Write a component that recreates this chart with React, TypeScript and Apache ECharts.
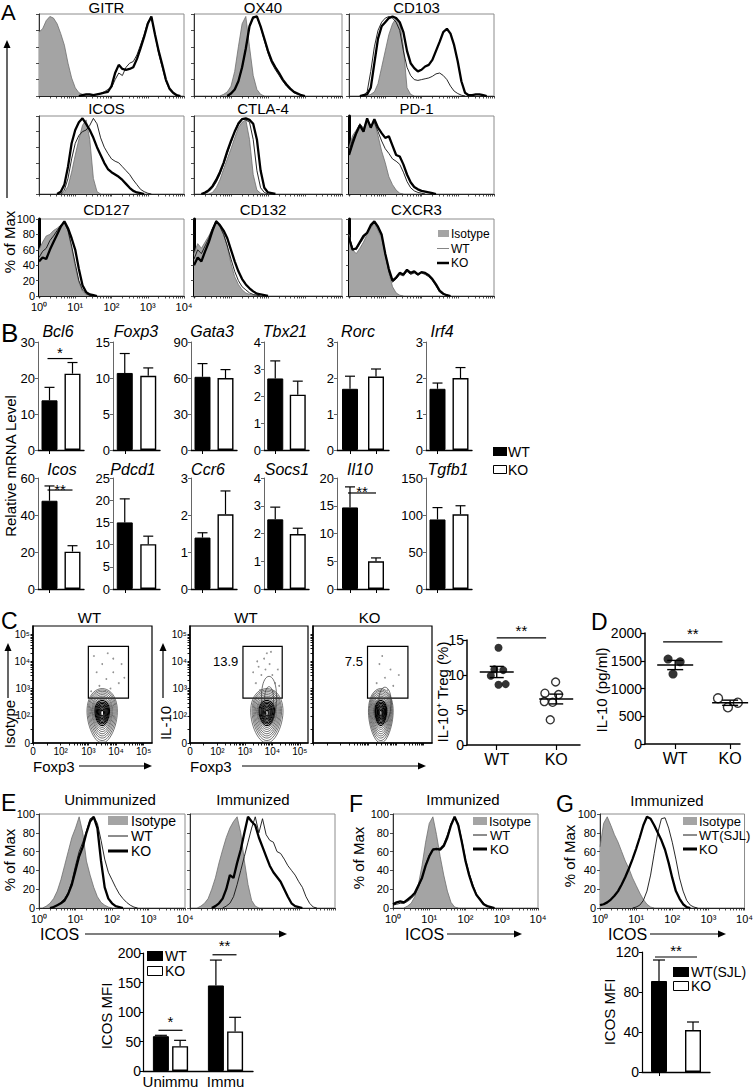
import React, { useEffect, useRef } from 'react';
import * as echarts from 'echarts';

const FONT = '"Liberation Sans", Arial, Helvetica, sans-serif';
const SUP = ['\u2070', '\u00b9', '\u00b2', '\u00b3', '\u2074', '\u2075'];

type Curve = { from: number; v: number[] };

// ---------------- Panel A histograms (x: log10 intensity from `from`, step 0.1; y: % of max)
const GITR_ISO: Curve = { from: 0, v: [78, 82, 92, 97, 95, 88, 76, 62, 40, 22, 10, 4, 2, 1, 1] };
const GITR_WT: Curve = { from: 1.2, v: [1, 2, 2, 1, 2, 3, 5, 8, 10, 20, 28, 25, 35, 40, 42, 50, 62, 75, 90, 96, 75, 52, 35, 18, 8, 3, 1] };
const GITR_KO: Curve = { from: 1.2, v: [1, 2, 2, 1, 2, 3, 4, 5, 12, 28, 38, 33, 32, 33, 35, 45, 58, 72, 88, 97, 75, 55, 38, 20, 9, 4, 1] };
const OX40_ISO: Curve = { from: 0.8, v: [2, 5, 12, 30, 60, 88, 97, 60, 25, 8, 2] };
const OX40_WT: Curve = { from: 1.0, v: [3, 8, 18, 35, 58, 85, 95, 96, 84, 68, 52, 40, 32, 25, 18, 12, 8, 4, 2, 1] };
const OX40_KO: Curve = { from: 1.0, v: [3, 8, 18, 35, 58, 85, 96, 97, 85, 70, 55, 43, 35, 28, 20, 14, 9, 5, 3, 1] };
const CD103_ISO: Curve = { from: 0.6, v: [2, 5, 15, 35, 55, 75, 88, 95, 90, 60, 10, 2] };
const CD103_WT: Curve = { from: 0.4, v: [1, 5, 30, 60, 80, 90, 95, 97, 95, 90, 80, 55, 35, 25, 20, 19, 20, 21, 22, 24, 27, 28, 25, 20, 12, 6, 3, 1] };
const CD103_KO: Curve = { from: 0.4, v: [1, 2, 10, 40, 70, 85, 90, 95, 97, 95, 90, 78, 55, 40, 34, 30, 32, 36, 38, 44, 55, 66, 78, 82, 76, 62, 42, 18, 4, 1, 1, 2, 2, 1] };
const ICOS_ISO: Curve = { from: 0.7, v: [2, 10, 28, 50, 70, 88, 95, 70, 20, 3] };
const ICOS_WT: Curve = { from: 0.7, v: [5, 20, 45, 65, 75, 80, 82, 88, 97, 90, 72, 60, 52, 45, 42, 40, 35, 30, 25, 18, 12, 6, 3, 1] };
const ICOS_KO: Curve = { from: 0.6, v: [3, 12, 35, 65, 82, 92, 97, 90, 82, 72, 60, 50, 40, 32, 28, 25, 22, 18, 13, 8, 4, 2, 1] };
const CTLA4_ISO: Curve = { from: 0.5, v: [2, 8, 18, 32, 45, 58, 72, 85, 92, 95, 70, 25, 5, 1] };
const CTLA4_WT: Curve = { from: 0.3, v: [1, 3, 8, 15, 25, 38, 52, 66, 80, 92, 97, 95, 92, 70, 30, 8, 2] };
const CTLA4_KO: Curve = { from: 0.3, v: [2, 5, 10, 18, 28, 40, 55, 68, 80, 90, 96, 97, 95, 90, 70, 30, 8, 2, 1] };
const PD1_ISO: Curve = { from: 0, v: [60, 75, 82, 90, 85, 95, 88, 92, 75, 55, 40, 22, 12, 5, 1] };
const PD1_WT: Curve = { from: 0, v: [55, 70, 80, 90, 82, 95, 88, 92, 80, 68, 58, 52, 45, 42, 38, 28, 16, 8, 4, 2, 1] };
const PD1_KO: Curve = { from: 0, v: [50, 65, 78, 88, 80, 97, 85, 96, 85, 78, 72, 74, 62, 50, 48, 38, 25, 15, 9, 6, 4, 3, 2, 1] };
const CD127_ISO: Curve = { from: 0, v: [60, 70, 78, 80, 85, 88, 92, 96, 85, 62, 38, 18, 6, 2, 1] };
const CD127_WT: Curve = { from: 0, v: [50, 58, 62, 72, 78, 85, 92, 95, 85, 65, 42, 20, 8, 3, 1] };
const CD127_KO: Curve = { from: 0, v: [45, 50, 48, 60, 70, 80, 90, 97, 88, 75, 60, 35, 14, 5, 2, 1] };
const CD132_ISO: Curve = { from: 0, v: [55, 68, 62, 70, 78, 88, 97, 92, 80, 65, 42, 25, 15, 8, 4, 2, 1] };
const CD132_WT: Curve = { from: 0, v: [48, 60, 55, 65, 75, 88, 98, 90, 80, 65, 48, 32, 20, 12, 8, 4, 2, 1] };
const CD132_KO: Curve = { from: 0, v: [40, 50, 45, 58, 70, 85, 97, 92, 85, 75, 60, 45, 32, 22, 15, 10, 6, 3, 2, 1] };
const CXCR3_ISO: Curve = { from: 0, v: [80, 60, 55, 62, 70, 80, 88, 95, 85, 75, 55, 30, 12, 4, 1] };
const CXCR3_WT: Curve = { from: 0, v: [78, 62, 60, 68, 75, 82, 90, 96, 88, 78, 55, 32, 18, 22, 28, 26, 32, 28, 30, 27, 30, 28, 25, 20, 13, 5, 2, 1] };
const CXCR3_KO: Curve = { from: 0, v: [75, 60, 62, 70, 78, 82, 92, 97, 90, 80, 55, 35, 20, 24, 30, 28, 34, 30, 32, 28, 31, 30, 27, 22, 15, 7, 3, 1] };

// ---------------- Panels E, F, G histograms (ICOS)
const EU_ISO: Curve = { from: 0.2, v: [2, 5, 10, 18, 30, 45, 60, 75, 85, 97, 80, 50, 35, 22, 12, 6, 3, 1] };
const EU_WT: Curve = { from: 0.4, v: [1, 3, 6, 10, 16, 28, 45, 60, 70, 82, 95, 97, 90, 72, 52, 38, 30, 22, 15, 10, 6, 3, 1] };
const EU_KO: Curve = { from: 0.4, v: [1, 3, 5, 8, 15, 25, 40, 55, 65, 80, 92, 97, 85, 50, 22, 10, 5, 2, 1] };
const EI_ISO: Curve = { from: 0.3, v: [2, 5, 10, 20, 32, 48, 62, 75, 85, 92, 97, 80, 50, 25, 8, 2] };
const EI_WT: Curve = { from: 1.0, v: [2, 5, 12, 25, 40, 55, 70, 85, 97, 80, 95, 78, 72, 70, 60, 58, 52, 45, 40, 35, 28, 22, 12, 5, 1] };
const EI_KO: Curve = { from: 0.7, v: [2, 5, 10, 20, 35, 32, 48, 62, 80, 97, 92, 88, 75, 65, 55, 45, 38, 33, 28, 20, 12, 5, 2, 1] };
const F_ISO: Curve = { from: 0.4, v: [2, 5, 12, 25, 45, 70, 90, 97, 78, 55, 35, 18, 6, 1] };
const F_WT: Curve = { from: 0, v: [3, 4, 5, 5, 7, 10, 14, 22, 32, 46, 56, 63, 62, 64, 68, 78, 90, 96, 90, 72, 52, 37, 25, 15, 10, 5, 2, 1] };
const F_KO: Curve = { from: 0, v: [4, 6, 7, 6, 9, 12, 16, 24, 32, 45, 55, 62, 63, 62, 66, 75, 88, 97, 88, 70, 50, 35, 23, 14, 9, 4, 2, 1] };
const G_ISO: Curve = { from: 0, v: [65, 90, 97, 88, 78, 70, 60, 50, 42, 32, 24, 16, 9, 4, 1] };
const G_WT: Curve = { from: 1.0, v: [1, 3, 8, 18, 35, 58, 80, 95, 96, 85, 70, 52, 32, 18, 8, 3, 1] };
const G_KO: Curve = { from: 0, v: [3, 4, 6, 9, 13, 18, 25, 33, 42, 52, 63, 75, 88, 97, 95, 88, 80, 72, 62, 48, 32, 18, 10, 4, 1] };

// ---------------- Panel B: relative mRNA level
const B_GROUPS = ['WT', 'KO'];
const B_GENES = ['Bcl6', 'Foxp3', 'Gata3', 'Tbx21', 'Rorc', 'Irf4', 'Icos', 'Pdcd1', 'Ccr6', 'Socs1', 'Il10', 'Tgfb1'];
const B_WT = [13.8, 10.7, 61, 2.65, 1.7, 1.7, 47.7, 15, 1.39, 2.51, 14.7, 94];
const B_WT_HI = [17.4, 13.4, 72, 3.3, 2.05, 1.86, 55.7, 20.3, 1.52, 2.95, 18.4, 110];
const B_KO = [21.2, 10.3, 60, 2.05, 2.04, 2.0, 20.2, 10.1, 2.02, 1.98, 5.0, 101];
const B_KO_HI = [24.3, 11.4, 67, 2.55, 2.25, 2.29, 23.4, 11.9, 2.65, 2.19, 5.6, 112.5];
const B_MAX = [30, 15, 90, 4, 3, 3, 60, 25, 3, 4, 20, 150];
const B_STEP = [10, 5, 30, 1, 1, 1, 20, 5, 1, 1, 5, 50];
const B_SIG = ['*', '', '', '', '', '', '**', '', '', '', '**', ''];
const B_SIG_Y = [25.4, 0, 0, 0, 0, 0, 53.5, 0, 0, 0, 17.3, 0];

// ---------------- Panel C: flow plots (axis units: 0, 10^2 .. 10^5 at 0..4)
const C_AXIS_LABELS = ['0', '10' + SUP[2], '10' + SUP[3], '10' + SUP[4], '10' + SUP[5]];
const C_TITLES = ['WT', 'WT', 'KO'];
const C_GATE_PCT = ['', '13.9', '7.5'];
const C_GATES = [[[2.0, 1.65], [3.45, 3.55]], [[1.93, 1.65], [3.36, 3.55]], [[1.97, 1.65], [3.43, 3.55]]];
// contour levels: [cx, cy, rx, ry]
const C1_CONTOURS = [[2.5, 1.0, 0.54, 1.0], [2.5, 1.02, 0.5, 0.93], [2.5, 1.04, 0.46, 0.86], [2.5, 1.05, 0.42, 0.79], [2.5, 1.06, 0.38, 0.72], [2.5, 1.07, 0.35, 0.65], [2.5, 1.08, 0.32, 0.58], [2.5, 1.09, 0.29, 0.52], [2.5, 1.1, 0.26, 0.46], [2.5, 1.1, 0.23, 0.4], [2.5, 1.1, 0.2, 0.35], [2.5, 1.1, 0.17, 0.3], [2.5, 1.1, 0.14, 0.25], [2.5, 1.1, 0.11, 0.2], [2.5, 1.1, 0.08, 0.15], [2.5, 1.1, 0.05, 0.1]];
const C2_CONTOURS = [[2.8, 1.0, 0.58, 1.0], [2.8, 1.02, 0.53, 0.93], [2.8, 1.04, 0.49, 0.86], [2.8, 1.05, 0.45, 0.79], [2.8, 1.06, 0.41, 0.72], [2.8, 1.07, 0.37, 0.65], [2.8, 1.08, 0.34, 0.58], [2.8, 1.09, 0.31, 0.52], [2.8, 1.1, 0.28, 0.46], [2.8, 1.1, 0.25, 0.4], [2.8, 1.1, 0.21, 0.35], [2.8, 1.1, 0.18, 0.3], [2.8, 1.1, 0.15, 0.25], [2.8, 1.1, 0.12, 0.2], [2.8, 1.1, 0.08, 0.15], [2.8, 1.1, 0.05, 0.1], [2.88, 1.55, 0.27, 0.9], [2.88, 1.5, 0.16, 0.57]];
const C3_CONTOURS = [[2.45, 1.0, 0.44, 1.0], [2.45, 1.02, 0.41, 0.93], [2.45, 1.04, 0.38, 0.86], [2.45, 1.05, 0.35, 0.79], [2.45, 1.06, 0.32, 0.72], [2.45, 1.07, 0.29, 0.65], [2.45, 1.08, 0.26, 0.58], [2.45, 1.09, 0.24, 0.52], [2.45, 1.1, 0.21, 0.46], [2.45, 1.1, 0.19, 0.4], [2.45, 1.1, 0.17, 0.35], [2.45, 1.1, 0.14, 0.3], [2.45, 1.1, 0.12, 0.25], [2.45, 1.1, 0.09, 0.2], [2.45, 1.1, 0.07, 0.15], [2.45, 1.1, 0.04, 0.1], [2.6, 1.4, 0.22, 0.65]];
const C1_DOTS = [[2.2, 3.2], [2.5, 2.9], [2.7, 3.3], [2.9, 2.6], [3.1, 2.2], [2.4, 2.1], [2.6, 1.9], [2.8, 2.0], [3.2, 2.9], [2.3, 2.6], [2.9, 3.1], [2.1, 1.9], [3.3, 2.4], [2.65, 2.35]];
const C2_DOTS = [[2.5, 2.8], [2.7, 3.1], [2.9, 2.9], [3.0, 2.5], [2.6, 2.5], [2.4, 2.2], [3.1, 2.2], [2.8, 3.3], [3.2, 2.7], [2.3, 2.6], [2.55, 1.95], [3.05, 1.9], [2.75, 2.7], [2.95, 3.35], [2.45, 3.0], [3.25, 2.1]];
const C3_DOTS = [[2.4, 2.9], [2.6, 2.4], [2.8, 2.7], [2.3, 2.2], [2.9, 2.1], [2.5, 3.2], [3.1, 2.5], [2.7, 1.95]];

// IL-10+ Treg (%) dot plot: [x jitter around group, value]
const CS_WT = [[0.03, 13.9], [-0.04, 10.8], [0.11, 10.7], [-0.1, 9.9], [0.03, 8.6], [0.15, 8.7]];
const CS_KO = [[-0.01, 9.0], [-0.19, 7.4], [0.04, 7.2], [-0.2, 6.2], [-0.06, 6.1], [-0.1, 3.6]];
const CS_MEAN_SEM = [[0, 10.43, 0.8], [1, 6.57, 0.7]];

// ---------------- Panel D: IL-10 (pg/ml)
const D_WT = [[-0.13, 1530], [0.09, 1480], [-0.04, 1260]];
const D_KO = [[-0.22, 823], [-0.04, 661], [0.14, 744]];
const D_MEAN_SEM = [[0, 1423, 83], [1, 743, 47]];

// ---------------- Panel E bar: ICOS MFI
const E_GROUPS = ['Unimmu', 'Immu'];
const E_WT = [59, 145];
const E_WT_HI = [60.5, 188];
const E_KO = [42, 67];
const E_KO_HI = [52, 91];

// ---------------- Panel G bar: ICOS MFI
const G_GROUPS = ['WT(SJL)', 'KO'];
const G_VAL = [91, 42];
const G_HI = [112, 50];

// ---------------- layout
const A_COL_LEFT = [39, 194, 349];
const A_COL_W = [145, 148, 145];
const A_ROW_TOP = [14, 116, 219];
const A_ROW_H = [82, 78, 77];
const A_TITLE_Y = [7, 108, 209];
const B_LEFT = [38, 113, 191, 264, 337, 426];
const B_W = [46, 47, 46, 45, 52, 46];
const B_ROW_TOP = [342, 478];
const B_ROW_H = [108, 111];
const B_TITLE_Y = [331, 469];
const B_TITLE_X = [[58, 136, 212, 285, 358, 442], [62, 133, 208, 287, 360, 448]];

function toPts(c: Curve): number[][] {
  const out: number[][] = [];
  if (c.from > 0.01) out.push([+(c.from - 0.1).toFixed(2), 0]);
  c.v.forEach((y, i) => out.push([+(c.from + i * 0.1).toFixed(2), y]));
  const last = c.from + (c.v.length - 1) * 0.1;
  if (last < 3.95) out.push([+(last + 0.1).toFixed(2), 0]);
  return out;
}

const HIST_TICKS: number[] = [];
for (let d = 0; d < 4; d++) for (let k = 1; k <= 9; k++) HIST_TICKS.push(+(d + Math.log10(k)).toFixed(4));
HIST_TICKS.push(4);
const C_TICKS: number[] = [0, 0.5, 1];
for (let d = 1; d < 4; d++) for (let k = 2; k <= 10; k++) C_TICKS.push(+(d + Math.log10(k)).toFixed(4));

function txt(x: number, y: number, text: string, size: number, o: any = {}) {
  const align = o.align || 'center';
  const va = o.va || 'middle';
  return {
    type: 'text', x, y, rotation: o.rot || 0, silent: true, z: 100,
    style: {
      text, fill: o.color || '#000',
      font: `${o.italic ? 'italic ' : ''}${size}px ${FONT}`,
      textAlign: align, align, textVerticalAlign: va, verticalAlign: va,
    },
  };
}

function arrow(x1: number, y1: number, x2: number, y2: number, w = 1.2) {
  const ang = Math.atan2(y2 - y1, x2 - x1);
  const L = 8, H = 3.5;
  const bx = x2 - L * Math.cos(ang), by = y2 - L * Math.sin(ang);
  const px = -Math.sin(ang) * H, py = Math.cos(ang) * H;
  return [
    { type: 'line', silent: true, z: 100, shape: { x1, y1, x2: bx, y2: by }, style: { stroke: '#000', lineWidth: w } },
    { type: 'polygon', silent: true, z: 100, shape: { points: [[x2, y2], [bx + px, by + py], [bx - px, by - py]] }, style: { fill: '#000' } },
  ];
}

function hline(x1: number, x2: number, y: number, w: number, color = '#000') {
  return { type: 'line', silent: true, z: 100, shape: { x1, y1: y, x2, y2: y }, style: { stroke: color, lineWidth: w } };
}
function box(x: number, y: number, w: number, h: number, fill: string, stroke?: string) {
  return { type: 'rect', silent: true, z: 100, shape: { x, y, width: w, height: h }, style: { fill, stroke: stroke || null, lineWidth: stroke ? 1 : 0 } };
}

function buildOption(): any {
  const grid: any[] = [], xAxis: any[] = [], yAxis: any[] = [], series: any[] = [], graphic: any[] = [];
  const lab = { fontFamily: FONT, color: '#000' };

  function hist(b: number[], iso: Curve, wt: Curve, ko: Curve, o: any) {
    const i = grid.length;
    grid.push({ left: b[0], top: b[1], width: b[2], height: b[3], show: true, borderColor: '#8c8c8c', borderWidth: 1, backgroundColor: '#fff' });
    xAxis.push({
      type: 'value', gridIndex: i, min: 0, max: 4,
      axisLine: { show: true, onZero: false, lineStyle: { color: '#222', width: 1 } },
      axisTick: { show: true, customValues: HIST_TICKS, length: 2.5, lineStyle: { color: '#222', width: 0.8 } },
      axisLabel: { show: !!o.xl, customValues: [0, 1, 2, 3, 4], formatter: (v: number) => '10' + SUP[Math.round(v)], fontSize: 11, margin: 5, ...lab },
      splitLine: { show: false },
    });
    yAxis.push({
      type: 'value', gridIndex: i, min: 0, max: 100, interval: 20,
      axisLine: { show: true, onZero: false, lineStyle: { color: o.thick ? '#000' : '#333', width: o.thick ? 3 : 1 } },
      axisTick: { show: true, length: 3, lineStyle: { color: '#222', width: 0.8 } },
      axisLabel: { show: !!o.yl, fontSize: 11, margin: 4, ...lab },
      splitLine: { show: false },
    });
    series.push({ type: 'line', xAxisIndex: i, yAxisIndex: i, data: toPts(iso), symbol: 'none', silent: true, z: 2, lineStyle: { color: '#6e6e6e', width: 0.8 }, areaStyle: { color: '#a4a4a4', opacity: 1 } });
    series.push({ type: 'line', xAxisIndex: i, yAxisIndex: i, data: toPts(wt), symbol: 'none', silent: true, z: 3, lineStyle: { color: '#111', width: 0.9 } });
    series.push({ type: 'line', xAxisIndex: i, yAxisIndex: i, data: toPts(ko), symbol: 'none', silent: true, z: 4, lineStyle: { color: '#000', width: 2.3 } });
  }

  function errSeries(i: number, data: number[][], dx: number[], cap = 5) {
    return {
      type: 'custom', xAxisIndex: i, yAxisIndex: i, data, silent: true, z: 5,
      renderItem: (params: any, api: any) => {
        const off = dx[params.dataIndex] || 0;
        const a = api.coord([api.value(0), api.value(1)]);
        const b = api.coord([api.value(0), api.value(2)]);
        const x = a[0] + off;
        return {
          type: 'group', children: [
            { type: 'line', shape: { x1: x, y1: a[1], x2: x, y2: b[1] }, style: { stroke: '#000', lineWidth: 1.2 } },
            { type: 'line', shape: { x1: x - cap, y1: b[1], x2: x + cap, y2: b[1] }, style: { stroke: '#000', lineWidth: 1.2 } },
          ],
        };
      },
    };
  }

  function sigSeries(i: number, data: number[][], labels: string[], dx0: number[], dx1: number[], lift: number) {
    return {
      type: 'custom', xAxisIndex: i, yAxisIndex: i, data, silent: true, z: 6, clip: false,
      renderItem: (params: any, api: any) => {
        const k = params.dataIndex;
        const a = api.coord([api.value(0), api.value(2)]);
        const b = api.coord([api.value(1), api.value(2)]);
        const x0 = a[0] + (dx0[k] || 0), x1 = b[0] + (dx1[k] || 0);
        return {
          type: 'group', children: [
            { type: 'line', shape: { x1: x0, y1: a[1], x2: x1, y2: a[1] }, style: { stroke: '#000', lineWidth: 1.2 } },
            { type: 'text', x: (x0 + x1) / 2, y: a[1] - lift, style: { text: labels[k], fill: '#000', font: `15px ${FONT}`, textAlign: 'center', align: 'center', textVerticalAlign: 'middle', verticalAlign: 'middle' } },
          ],
        };
      },
    };
  }

  function meanSem(i: number, data: number[][], half: number, cap: number) {
    return {
      type: 'custom', xAxisIndex: i, yAxisIndex: i, data, silent: true, z: 6,
      renderItem: (params: any, api: any) => {
        const m = api.coord([api.value(0), api.value(1)]);
        const lo = api.coord([api.value(0), api.value(1) - api.value(2)]);
        const hi = api.coord([api.value(0), api.value(1) + api.value(2)]);
        const st = { stroke: '#000', lineWidth: 1.4 };
        return {
          type: 'group', children: [
            { type: 'line', shape: { x1: m[0] - half, y1: m[1], x2: m[0] + half, y2: m[1] }, style: st },
            { type: 'line', shape: { x1: m[0], y1: lo[1], x2: m[0], y2: hi[1] }, style: st },
            { type: 'line', shape: { x1: m[0] - cap, y1: lo[1], x2: m[0] + cap, y2: lo[1] }, style: st },
            { type: 'line', shape: { x1: m[0] - cap, y1: hi[1], x2: m[0] + cap, y2: hi[1] }, style: st },
          ],
        };
      },
    };
  }

  // ================= Panel A =================
  const A = [
    ['GITR', GITR_ISO, GITR_WT, GITR_KO], ['OX40', OX40_ISO, OX40_WT, OX40_KO], ['CD103', CD103_ISO, CD103_WT, CD103_KO],
    ['ICOS', ICOS_ISO, ICOS_WT, ICOS_KO], ['CTLA-4', CTLA4_ISO, CTLA4_WT, CTLA4_KO], ['PD-1', PD1_ISO, PD1_WT, PD1_KO],
    ['CD127', CD127_ISO, CD127_WT, CD127_KO], ['CD132', CD132_ISO, CD132_WT, CD132_KO], ['CXCR3', CXCR3_ISO, CXCR3_WT, CXCR3_KO],
  ] as any[];
  A.forEach((p, k) => {
    const r = Math.floor(k / 3), c = k % 3;
    const b = [A_COL_LEFT[c], A_ROW_TOP[r], A_COL_W[c], A_ROW_H[r]];
    const thick = p[0] === 'PD-1' || r === 2;
    hist(b, p[1], p[2], p[3], { xl: k === 6, yl: k === 6, thick });
    graphic.push(txt(b[0] + b[2] / 2 - 5, A_TITLE_Y[r], p[0], 15));
  });
  graphic.push(txt(1, 1, 'A', 22, { align: 'left', va: 'top' }));
  graphic.push(...arrow(7, 198, 7, 40));
  graphic.push(txt(9, 242, '% of Max', 15, { rot: Math.PI / 2 }));
  graphic.push(box(438, 230, 11, 7, '#a4a4a4'));
  graphic.push(txt(451, 233.5, 'Isotype', 12, { align: 'left' }));
  graphic.push(hline(437, 449, 248.5, 0.9, '#777'));
  graphic.push(txt(451, 248.5, 'WT', 12, { align: 'left' }));
  graphic.push(hline(437, 449, 263, 2.5));
  graphic.push(txt(451, 263, 'KO', 12, { align: 'left' }));

  // ================= Panel B =================
  B_GENES.forEach((g, k) => {
    const r = Math.floor(k / 6), c = k % 6;
    const i = grid.length;
    grid.push({ left: B_LEFT[c], top: B_ROW_TOP[r], width: B_W[c], height: B_ROW_H[r] });
    xAxis.push({
      type: 'category', gridIndex: i, data: B_GROUPS,
      axisLine: { show: true, lineStyle: { color: '#000', width: 1.4 } },
      axisTick: { show: true, alignWithLabel: true, length: 4, lineStyle: { color: '#000' } },
      axisLabel: { show: false }, splitLine: { show: false },
    });
    yAxis.push({
      type: 'value', gridIndex: i, min: 0, max: B_MAX[k], interval: B_STEP[k],
      axisLine: { show: true, lineStyle: { color: '#666', width: 1 } },
      axisTick: { show: true, length: 3, lineStyle: { color: '#666' } },
      axisLabel: { fontSize: 13, margin: 3, ...lab }, splitLine: { show: false },
    });
    series.push({
      type: 'bar', xAxisIndex: i, yAxisIndex: i, barWidth: 16, silent: true, z: 2,
      data: [
        { value: B_WT[k], itemStyle: { color: '#000', borderColor: '#000', borderWidth: 1 } },
        { value: B_KO[k], itemStyle: { color: '#fff', borderColor: '#000', borderWidth: 1.4 } },
      ],
    });
    series.push(errSeries(i, [[0, B_WT[k], B_WT_HI[k]], [1, B_KO[k], B_KO_HI[k]]], [0, 0], 5));
    if (B_SIG[k]) series.push(sigSeries(i, [[0, 1, B_SIG_Y[k]]], [B_SIG[k]], [-2], [0], k === 0 ? 6 : 1));
    graphic.push(txt(B_TITLE_X[r][c], B_TITLE_Y[r], g, 16, { italic: true }));
  });
  graphic.push(txt(1, 320, 'B', 26, { align: 'left', va: 'top' }));
  graphic.push(txt(10, 466, 'Relative mRNA Level', 15, { rot: Math.PI / 2 }));
  graphic.push(box(493, 447, 14, 9, '#000'));
  graphic.push(txt(508, 452, 'WT', 14, { align: 'left' }));
  graphic.push(box(493.5, 465.5, 13, 8, '#fff', '#000'));
  graphic.push(txt(508, 470, 'KO', 14, { align: 'left' }));

  // ================= Panel C flow plots =================
  const flowBoxes = [[33, 626, 119, 117], [190, 626, 118, 117], [313, 626, 119, 117]];
  const flowContours = [C1_CONTOURS, C2_CONTOURS, C3_CONTOURS];
  const flowDots = [C1_DOTS, C2_DOTS, C3_DOTS];
  flowBoxes.forEach((b, k) => {
    const i = grid.length;
    grid.push({ left: b[0], top: b[1], width: b[2], height: b[3], show: true, borderColor: '#000', borderWidth: 1.2, backgroundColor: '#fff' });
    const ax = (show: boolean) => ({
      type: 'value', gridIndex: i, min: 0, max: 4.3,
      axisLine: { show: true, onZero: false, lineStyle: { color: '#000', width: 1.5 } },
      axisTick: { show: true, customValues: C_TICKS, length: 2.5, lineStyle: { color: '#000', width: 0.9 } },
      axisLabel: { show, customValues: [0, 1, 2, 3, 4], formatter: (v: number) => C_AXIS_LABELS[Math.round(v)], fontSize: 10, margin: 3, ...lab },
      splitLine: { show: false },
    });
    xAxis.push(ax(k < 2));
    yAxis.push(ax(k < 2));
    series.push({
      type: 'custom', xAxisIndex: i, yAxisIndex: i, data: flowContours[k], silent: true, z: 3, clip: true,
      renderItem: (params: any, api: any) => {
        const cx = api.value(0), cy = api.value(1), rx = api.value(2), ry = api.value(3);
        const pts: number[][] = [];
        for (let s = 0; s < 48; s++) {
          const t = (s / 48) * Math.PI * 2;
          // slightly wider toward the top, narrower at the base (teardrop-like contour)
          const w = 1 + 0.18 * Math.sin(t);
          pts.push(api.coord([cx + rx * w * Math.cos(t), Math.max(0.03, cy + ry * Math.sin(t))]));
        }
        const inner = params.dataIndex >= 8 && params.dataIndex < 16;
        return { type: 'polygon', shape: { points: pts }, style: { fill: 'none', stroke: inner ? '#000' : '#333', lineWidth: inner ? 1.1 : 0.7 } };
      },
    });
    series.push({
      type: 'scatter', xAxisIndex: i, yAxisIndex: i, data: flowDots[k], symbolSize: 1.8, silent: true, z: 3,
      itemStyle: { color: '#777' },
      markArea: {
        silent: true,
        itemStyle: { color: 'rgba(0,0,0,0)', borderColor: '#000', borderWidth: 1.2 },
        label: { show: !!C_GATE_PCT[k], position: 'left', distance: 4, offset: [0, -11], formatter: C_GATE_PCT[k], fontSize: 13, ...lab },
        data: [[{ coord: C_GATES[k][0] }, { coord: C_GATES[k][1] }]],
      },
    });
    graphic.push(txt(b[0] + b[2] / 2 - 3, 617, C_TITLES[k], 15));
  });
  graphic.push(txt(1, 609, 'C', 23, { align: 'left', va: 'top' }));
  graphic.push(...arrow(8, 698, 8, 643));
  graphic.push(txt(9, 724, 'Isotype', 15, { rot: Math.PI / 2 }));
  graphic.push(...arrow(163, 698, 163, 643));
  graphic.push(txt(165, 723, 'IL-10', 15, { rot: Math.PI / 2 }));
  graphic.push(txt(33, 766, 'Foxp3', 15, { align: 'left' }));
  graphic.push(...arrow(79, 766, 152, 766));
  graphic.push(txt(190, 766, 'Foxp3', 15, { align: 'left' }));
  graphic.push(...arrow(242, 766, 426, 766));

  // dot plot helper
  function dotPlot(b: number[], xr: number[], yMax: number, yStep: number, groups: string[], wt: number[][], ko: number[][], ms: number[][], sym: number, half: number, cap: number) {
    const i = grid.length;
    grid.push({ left: b[0], top: b[1], width: b[2], height: b[3] });
    xAxis.push({
      type: 'value', gridIndex: i, min: xr[0], max: xr[1],
      axisLine: { show: true, onZero: false, lineStyle: { color: '#000', width: 1.5 } },
      axisTick: { show: true, customValues: [0, 1], length: 5, lineStyle: { color: '#000', width: 1.2 } },
      axisLabel: { show: true, customValues: [0, 1], formatter: (v: number) => groups[Math.round(v)], fontSize: 16, margin: 6, ...lab },
      splitLine: { show: false },
    });
    yAxis.push({
      type: 'value', gridIndex: i, min: 0, max: yMax, interval: yStep,
      axisLine: { show: true, onZero: false, lineStyle: { color: '#000', width: 1.5 } },
      axisTick: { show: true, length: 4, lineStyle: { color: '#000', width: 1.2 } },
      axisLabel: { fontSize: 14, margin: 3, formatter: (v: number) => String(v), ...lab }, splitLine: { show: false },
    });
    series.push({ type: 'scatter', xAxisIndex: i, yAxisIndex: i, data: wt, symbolSize: sym, silent: true, z: 4, itemStyle: { color: '#000' } });
    series.push({ type: 'scatter', xAxisIndex: i, yAxisIndex: i, data: ko.map((p) => [p[0] + 1, p[1]]), symbolSize: sym, silent: true, z: 4, itemStyle: { color: '#fff', borderColor: '#000', borderWidth: 1.4 } });
    series.push(meanSem(i, ms, half, cap));
    return i;
  }

  const ci = dotPlot([467, 640, 113, 105], [-0.5, 1.4], 15, 5, ['WT', 'KO'], CS_WT, CS_KO, CS_MEAN_SEM, 8, 17, 7);
  series.push(sigSeries(ci, [[0, 0.83, 15.3]], ['**'], [0], [0], 7));
  graphic.push(txt(442, 692, 'IL-10\u207a Treg (%)', 15, { rot: Math.PI / 2 }));

  // ================= Panel D =================
  const di = dotPlot([645, 633, 95, 111], [-0.55, 1.18], 2000, 500, ['WT', 'KO'], D_WT, D_KO, D_MEAN_SEM, 9, 18, 8);
  series.push(sigSeries(di, [[-0.22, 0.86, 1840]], ['**'], [0], [0], 8));
  graphic.push(txt(591, 610, 'D', 23, { align: 'left', va: 'top' }));
  graphic.push(txt(601, 690, 'IL-10 (pg/ml)', 15, { rot: Math.PI / 2 }));

  // ================= Panel E/F/G histograms =================
  hist([39, 814, 146, 94], EU_ISO, EU_WT, EU_KO, { xl: true, yl: true });
  hist([190, 814, 145, 94], EI_ISO, EI_WT, EI_KO, {});
  hist([393, 814, 145, 94], F_ISO, F_WT, F_KO, { xl: true, yl: true });
  hist([600, 814, 148, 94], G_ISO, G_WT, G_KO, { xl: true, yl: true });

  graphic.push(txt(1, 791, 'E', 23, { align: 'left', va: 'top' }));
  graphic.push(txt(110, 799, 'Unimmunized', 15));
  graphic.push(txt(253, 799, 'Immunized', 15));
  graphic.push(txt(9, 860, '% of Max', 15, { rot: Math.PI / 2 }));
  graphic.push(box(108, 816, 20, 9, '#a4a4a4'));
  graphic.push(txt(131, 820.5, 'Isotype', 14, { align: 'left' }));
  graphic.push(hline(108, 128, 836, 0.9));
  graphic.push(txt(131, 836, 'WT', 14, { align: 'left' }));
  graphic.push(hline(108, 128, 851, 3));
  graphic.push(txt(131, 851, 'KO', 14, { align: 'left' }));
  graphic.push(txt(40, 934, 'ICOS', 16, { align: 'left' }));
  graphic.push(...arrow(85, 934, 287, 934));

  graphic.push(txt(349, 792, 'F', 23, { align: 'left', va: 'top' }));
  graphic.push(txt(463, 799, 'Immunized', 15));
  graphic.push(txt(358, 858, '% of Max', 15, { rot: Math.PI / 2 }));
  graphic.push(box(473, 817, 14, 8, '#a4a4a4'));
  graphic.push(txt(489, 821, 'Isotype', 13, { align: 'left' }));
  graphic.push(hline(473, 487, 835, 0.9));
  graphic.push(txt(490, 835, 'WT', 13, { align: 'left' }));
  graphic.push(hline(473, 487, 849, 3));
  graphic.push(txt(490, 849, 'KO', 13, { align: 'left' }));
  graphic.push(txt(405, 934, 'ICOS', 16, { align: 'left' }));
  graphic.push(...arrow(447, 934, 522, 934));

  graphic.push(txt(556, 792, 'G', 23, { align: 'left', va: 'top' }));
  graphic.push(txt(667, 800, 'Immunized', 15));
  graphic.push(txt(569, 856, '% of Max', 15, { rot: Math.PI / 2 }));
  graphic.push(box(683, 817, 14, 8, '#a4a4a4'));
  graphic.push(txt(699, 821, 'Isotype', 13, { align: 'left' }));
  graphic.push(hline(683, 697, 835, 0.9));
  graphic.push(txt(699, 835, 'WT(SJL)', 13, { align: 'left' }));
  graphic.push(hline(683, 697, 849, 3));
  graphic.push(txt(699, 849, 'KO', 13, { align: 'left' }));
  graphic.push(txt(608, 934, 'ICOS', 16, { align: 'left' }));
  graphic.push(...arrow(650, 934, 726, 934));

  // ================= Panel E bar =================
  {
    const i = grid.length;
    grid.push({ left: 143, top: 953, width: 110, height: 119 });
    xAxis.push({
      type: 'category', gridIndex: i, data: E_GROUPS,
      axisLine: { show: true, lineStyle: { color: '#000', width: 1.4 } },
      axisTick: { show: false },
      axisLabel: { fontSize: 15, margin: 3, interval: 0, ...lab }, splitLine: { show: false },
    });
    yAxis.push({
      type: 'value', gridIndex: i, min: 0, max: 200, interval: 50,
      axisLine: { show: true, lineStyle: { color: '#000', width: 1.2 } },
      axisTick: { show: true, length: 3, lineStyle: { color: '#000' } },
      axisLabel: { fontSize: 14, margin: 2, ...lab }, splitLine: { show: false },
    });
    series.push({ type: 'bar', xAxisIndex: i, yAxisIndex: i, data: E_WT, barWidth: 16, barGap: '20%', silent: true, z: 2, itemStyle: { color: '#000', borderColor: '#000', borderWidth: 1 } });
    series.push({ type: 'bar', xAxisIndex: i, yAxisIndex: i, data: E_KO, barWidth: 16, barGap: '20%', silent: true, z: 2, itemStyle: { color: '#fff', borderColor: '#000', borderWidth: 1.4 } });
    series.push(errSeries(i, [[0, E_WT[0], E_WT_HI[0]], [1, E_WT[1], E_WT_HI[1]]], [-9.6, -9.6], 6));
    series.push(errSeries(i, [[0, E_KO[0], E_KO_HI[0]], [1, E_KO[1], E_KO_HI[1]]], [9.6, 9.6], 6));
    series.push(sigSeries(i, [[0, 0, 69], [1, 1, 197]], ['*', '**'], [-12, -13], [12, 11], 9));
    graphic.push(box(147, 951, 16, 10, '#000'));
    graphic.push(txt(165, 956, 'WT', 14, { align: 'left' }));
    graphic.push(box(147.5, 966.5, 15, 9, '#fff', '#000'));
    graphic.push(txt(165, 971, 'KO', 14, { align: 'left' }));
    graphic.push(txt(106, 1016, 'ICOS MFI', 15, { rot: Math.PI / 2 }));
  }

  // ================= Panel G bar =================
  {
    const i = grid.length;
    grid.push({ left: 642, top: 952, width: 68, height: 120 });
    xAxis.push({
      type: 'category', gridIndex: i, data: G_GROUPS,
      axisLine: { show: true, lineStyle: { color: '#000', width: 1.4 } },
      axisTick: { show: true, alignWithLabel: true, length: 4, lineStyle: { color: '#000' } },
      axisLabel: { show: false }, splitLine: { show: false },
    });
    yAxis.push({
      type: 'value', gridIndex: i, min: 0, max: 120, interval: 40,
      axisLine: { show: true, lineStyle: { color: '#000', width: 1.2 } },
      axisTick: { show: true, length: 3, lineStyle: { color: '#000' } },
      axisLabel: { fontSize: 14, margin: 3, ...lab }, splitLine: { show: false },
    });
    series.push({
      type: 'bar', xAxisIndex: i, yAxisIndex: i, barWidth: 16, silent: true, z: 2,
      data: [
        { value: G_VAL[0], itemStyle: { color: '#000', borderColor: '#000', borderWidth: 1 } },
        { value: G_VAL[1], itemStyle: { color: '#fff', borderColor: '#000', borderWidth: 1.4 } },
      ],
    });
    series.push(errSeries(i, [[0, G_VAL[0], G_HI[0]], [1, G_VAL[1], G_HI[1]]], [0, 0], 6));
    series.push(sigSeries(i, [[0, 1, 115]], ['**'], [-4], [4], 7));
    graphic.push(box(673, 967, 16, 10, '#000'));
    graphic.push(txt(691, 972, 'WT(SJL)', 14, { align: 'left' }));
    graphic.push(box(673.5, 981.5, 15, 9, '#fff', '#000'));
    graphic.push(txt(691, 986, 'KO', 14, { align: 'left' }));
    graphic.push(txt(609, 1012, 'ICOS MFI', 15, { rot: Math.PI / 2 }));
  }

  return { animation: false, backgroundColor: '#fff', textStyle: { fontFamily: FONT }, grid, xAxis, yAxis, series, graphic };
}

export default function App() {
  const ref = useRef<HTMLDivElement>(null);
  useEffect(() => {
    if (!ref.current) return;
    const chart = echarts.init(ref.current, null, { renderer: 'svg', width: 756, height: 1089 });
    chart.setOption(buildOption());
    return () => chart.dispose();
  }, []);
  return <div ref={ref} style={{ position: 'absolute', left: 0, top: 0, width: 756, height: 1089, background: '#fff' }} />;
}
